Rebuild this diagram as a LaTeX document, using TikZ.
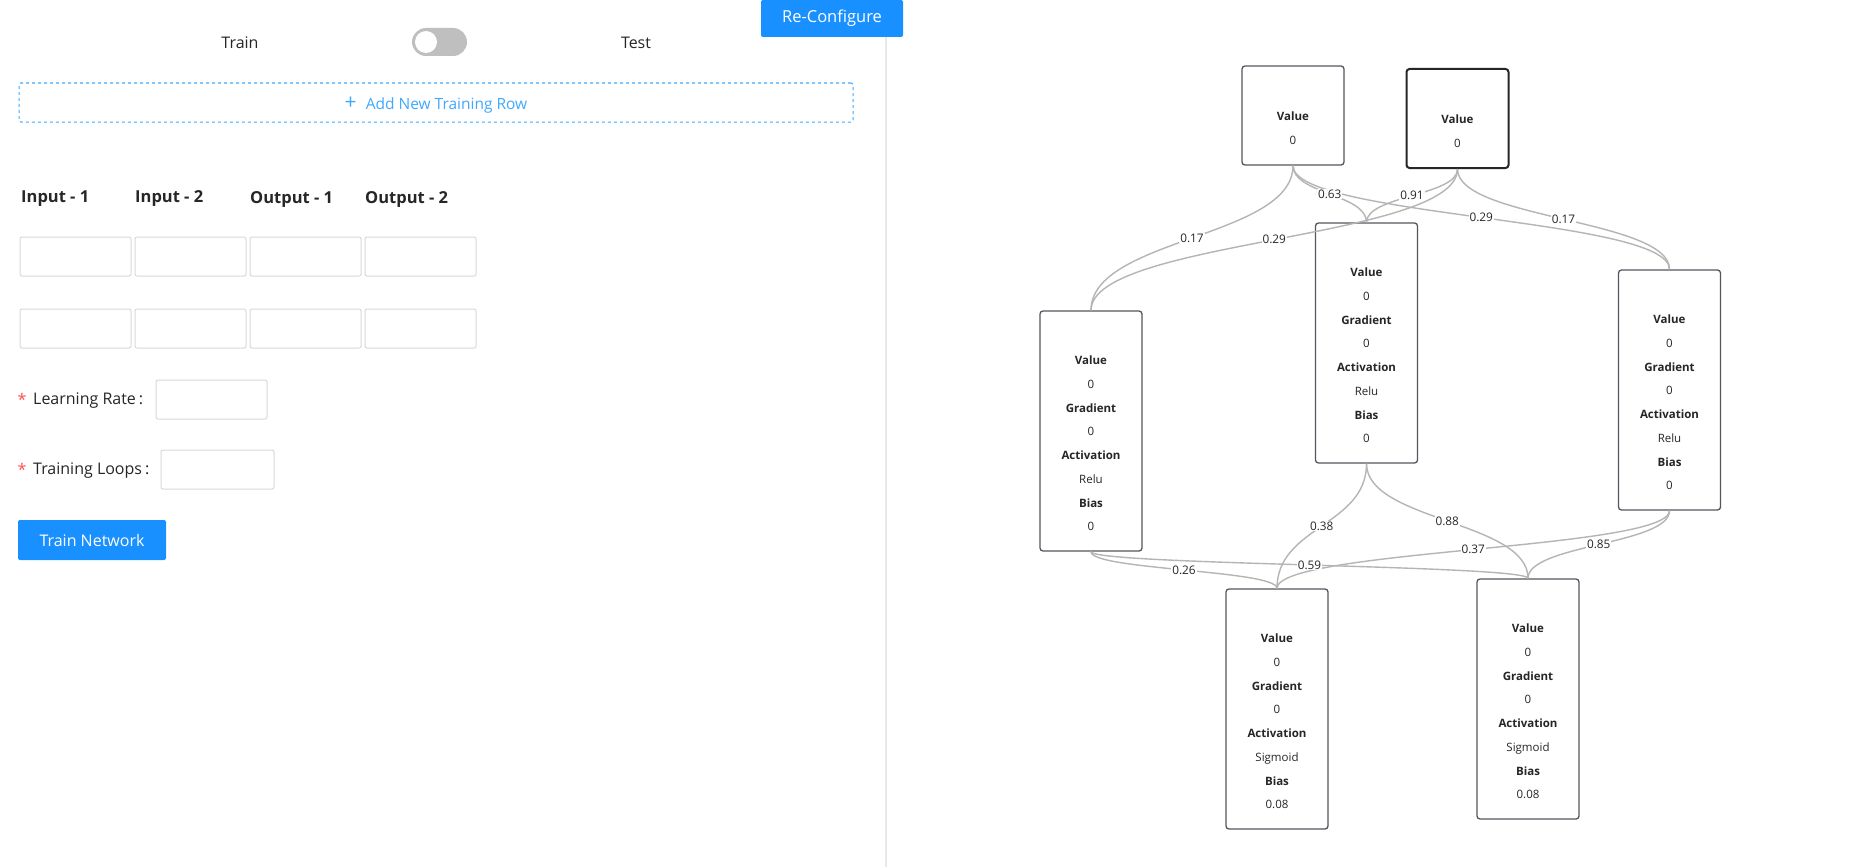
\documentclass[tikz,border=0pt]{standalone}
\usepackage{fontspec}
\IfFontExistsTF{Noto Sans Bold}
  {\setmainfont{Noto Sans}[BoldFont={Noto Sans Bold}]}
  {\IfFontExistsTF{Open Sans Bold}
    {\setmainfont{Open Sans}[BoldFont={Open Sans Bold}]}
    {\setmainfont{Noto Sans}[BoldFeatures={FakeBold=2.5}]}}
\usetikzlibrary{calc}

\definecolor{antblue}{HTML}{1890FF}
\definecolor{dashblue}{HTML}{40A9FF}
\definecolor{fieldgray}{HTML}{D9D9D9}
\definecolor{switchgray}{HTML}{BFBFBF}
\definecolor{linkgray}{HTML}{B5B5B5}
\definecolor{boxgray}{HTML}{55555F}
\definecolor{inkgray}{HTML}{262626}
\definecolor{starred}{HTML}{FF4D4F}

\tikzset{
  formtext/.style={inner sep=0pt, text=inkgray, font=\fontsize{16}{19}\selectfont},
  head/.style={formtext, anchor=west, font=\fontsize{16.5}{19}\selectfont\bfseries},
  field/.style={draw=fieldgray, line width=1pt, rounded corners=2pt, minimum width=111pt, minimum height=39pt},
  button/.style={fill=antblue, text=white, rounded corners=2pt, font=\fontsize{16}{19}\selectfont},
  neuron/.style={draw=boxgray, line width=1.3pt, rounded corners=3pt, fill=white, minimum width=102pt,
    align=center, inner sep=0pt, text=inkgray, font=\fontsize{11.5}{23.7}\selectfont},
  hidden/.style={neuron, minimum height=240pt},
  input/.style={neuron, minimum height=99pt},
  curve/.style={to path={let \p1=(\tikztostart), \p2=(\tikztotarget) in
    .. controls (\x1,{0.5*(\y1+\y2)}) and (\x2,{0.5*(\y1+\y2)}) .. (\tikztotarget) \tikztonodes}},
  link/.style={curve, draw=linkgray, line width=1.4pt},
  wt/.style={fill=white, inner sep=1pt, text=inkgray, font=\fontsize{11.8}{14}\selectfont}
}

\begin{document}
\begin{tikzpicture}[x=1pt, y=-1pt]
  \fill[white] (0,0) rectangle (1850,867);
  \useasboundingbox (0,0) rectangle (1850,867);

  % Form panel
  \draw[draw=black!9, line width=1.5pt] (886,0) -- (886,867);
  \node[button, minimum width=142pt, minimum height=37pt, font=\fontsize{16.5}{19}\selectfont] (reconf) at (832,18.5) {Re-Configure};
  \node[formtext] (train) at (240,43) {Train};
  \node[fill=switchgray, rounded corners=14pt, minimum width=55pt, minimum height=28pt] (switch) at (439.5,42) {};
  \node[circle, fill=white, minimum size=22pt, inner sep=0pt] (knob) at (426,42) {};
  \node[formtext] (test) at (636,43) {Test};
  \node[draw=dashblue, dashed, line width=1pt, rounded corners=2pt, minimum width=834pt, minimum height=39pt,
    text height=16.5pt, text depth=3.3pt, text=dashblue, font=\fontsize{15.5}{19}\selectfont] (addrow) at (436,102.5)
    {{\fontsize{21}{19}\selectfont +}\hspace{9pt}Add New Training Row};

  \node[head] (in1) at (21,199) {Input - 1};
  \node[head] (in2) at (135,199) {Input - 2};
  \node[head] (out1) at (250,199) {Output - 1};
  \node[head] (out2) at (365,199) {Output - 2};

  \node[field] (r1c1) at (75.5,256.5) {};
  \node[field] (r1c2) at (190.5,256.5) {};
  \node[field] (r1c3) at (305.5,256.5) {};
  \node[field] (r1c4) at (420.5,256.5) {};
  \node[field] (r2c1) at (75.5,328.5) {};
  \node[field] (r2c2) at (190.5,328.5) {};
  \node[field] (r2c3) at (305.5,328.5) {};
  \node[field] (r2c4) at (420.5,328.5) {};

  \node[formtext, text=starred] (star1) at (22,399) {*};
  \node[formtext, anchor=west] (rate) at (33,401) {Learning Rate\kern3pt:};
  \node[field] (ratebox) at (211.5,399.5) {};
  \node[formtext, text=starred] (star2) at (22,469) {*};
  \node[formtext, anchor=west] (loops) at (33,471) {Training Loops\kern3pt:};
  \node[field, minimum width=113pt] (loopbox) at (217.5,469.5) {};
  \node[button, minimum width=148pt, minimum height=40pt] (trainnet) at (92,540) {Train Network};

  % Nodes
  \node[input] (I1) at (1293,115.5) {\mbox{}\\[10pt]\textbf{Value}\\0};
  \node[input, draw=black!85, line width=2pt] (I2) at (1457.5,118.5) {\mbox{}\\[10pt]\textbf{Value}\\0};
  \node[hidden] (H1) at (1091,431) {\mbox{}\\[10pt]\textbf{Value}\\0\\\textbf{Gradient}\\0\\\textbf{Activation}\\Relu\\\textbf{Bias}\\0};
  \node[hidden] (H2) at (1366.5,343) {\mbox{}\\[10pt]\textbf{Value}\\0\\\textbf{Gradient}\\0\\\textbf{Activation}\\Relu\\\textbf{Bias}\\0};
  \node[hidden] (H3) at (1669.5,390) {\mbox{}\\[10pt]\textbf{Value}\\0\\\textbf{Gradient}\\0\\\textbf{Activation}\\Relu\\\textbf{Bias}\\0};
  \node[hidden] (O1) at (1277,709) {\mbox{}\\[10pt]\textbf{Value}\\0\\\textbf{Gradient}\\0\\\textbf{Activation}\\Sigmoid\\\textbf{Bias}\\0.08};
  \node[hidden] (O2) at (1528,699) {\mbox{}\\[10pt]\textbf{Value}\\0\\\textbf{Gradient}\\0\\\textbf{Activation}\\Sigmoid\\\textbf{Bias}\\0.08};

  % Links
  \def\links{I1/H1/0.17, I2/H1/0.29, I1/H2/0.63, I2/H2/0.91, I1/H3/0.29, I2/H3/0.17,
    H1/O1/0.26, H1/O2/0.59, H2/O1/0.38, H2/O2/0.88, H3/O1/0.37, H3/O2/0.85}
  \foreach \s/\t/\w in \links
    \draw[link] (\s.south) to (\t.north);

  % Weights
  \foreach \s/\t/\w in \links
    \path[curve] (\s.south) to node[wt] {\w} (\t.north);
\end{tikzpicture}
\end{document}
